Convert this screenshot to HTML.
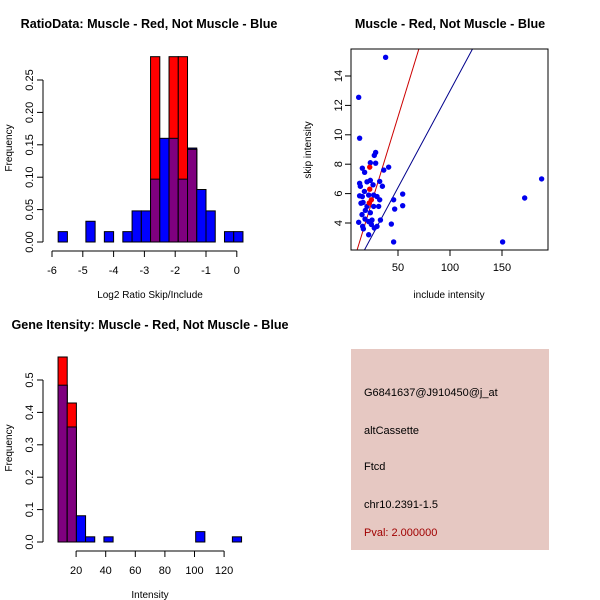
<!DOCTYPE html>
<html><head><meta charset="utf-8"><style>
body{margin:0;background:#fff}
svg{display:block;font-family:"Liberation Sans",sans-serif}
</style></head><body>
<svg id="s" width="600" height="600" viewBox="0 0 600 600">
<rect width="600" height="600" fill="#fff"/>
<g id="c1"></g>
<g id="c2"></g>
<g id="c3"></g>
<g>
<rect x="351" y="349" width="198" height="201" fill="#e6c8c2"/>
<text x="364" y="396" font-size="11">G6841637@J910450@j_at</text>
<text x="364" y="434" font-size="11">altCassette</text>
<text x="364" y="470" font-size="11">Ftcd</text>
<text x="364" y="508" font-size="11">chr10.2391-1.5</text>
<text x="364" y="536" font-size="11" fill="#a00000">Pval: 2.000000</text>
</g>
</svg>
<script>
// ---- Chart 1 data ----
const ratioBinStart = -5.8, ratioBinWidth = 0.3;
const ratioBlue = [0.016,0,0,0.032,0,0.016,0,0.016,0.048,0.048,0.097,0.16,0.16,0.097,0.145,0.081,0.048,0,0.016,0.016];
const ratioRed  = [0,0,0,0,0,0,0,0,0,0,0.286,0,0.286,0.286,0.143,0,0,0,0,0];
const ratioXTicks = [-6,-5,-4,-3,-2,-1,0];
const ratioYTicks = ["0.00","0.05","0.10","0.15","0.20","0.25"];
// ---- Chart 2 data ----
const scatBlueX = [12.2,13.1,38.1,12.2,13.1,13.8,15.7,13.1,14.4,16.4,17.7,15.7,17.9,15.4,16.0,16.7,18.3,18.6,20.2,20.2,21.8,21.8,21.8,23.4,23.4,23.4,24.4,25,26,26.6,26.6,27.2,28.5,28.5,27.2,29.8,29.8,31.4,32.4,32.4,33.1,35,36.3,41.0,43.6,45.8,45.8,46.8,54.5,54.5,150.6,171.8,188.1];
const scatBlueY = [12.55,9.77,15.27,4.05,6.7,6.5,5.8,5.85,5.35,5.4,6.15,7.73,7.45,4.57,3.77,3.6,4.27,4.86,5.13,6.8,5.9,4.1,3.2,6.9,8.1,4.7,3.9,4.2,6.6,5.9,5.13,8.6,8.8,8.07,3.66,3.77,5.8,5.13,5.58,6.83,4.2,6.5,7.6,7.8,3.93,2.71,5.58,4.95,5.97,5.18,2.71,5.7,7.0];
const scatRedX = [22.8,22.8,22.4,24.4];
const scatRedY = [7.8,6.3,5.36,5.58];
const fitSlopes = [0.2302,0.1316];
const fitIntercepts = [-0.29,-0.17];
const scatXTicks = [50,100,150];
const scatYTicks = [4,6,8,10,12,14];
// ---- Chart 3 data ----
const intBinStart = 7.8, intBinWidth = 6.2;
const intBlue = [0.484,0.355,0.081,0.016,0,0.016,0,0,0,0,0,0,0,0,0,0.032,0,0,0,0.016];
const intRed  = [0.571,0.429,0,0,0,0,0,0,0,0,0,0,0,0,0,0,0,0,0,0];
const intXTicks = [20,40,60,80,100,120];
const intYTicks = ["0.0","0.1","0.2","0.3","0.4","0.5"];

const NS="http://www.w3.org/2000/svg";
function mk(parent,tag,attrs,text){const e=document.createElementNS(NS,tag);for(const k in attrs)e.setAttribute(k,attrs[k]);if(text!==undefined)e.textContent=text;parent.appendChild(e);return e;}

function histogram(g,o){
  const X=v=>o.x0+(v-o.xv0)*o.xs, Y=v=>o.y0-v*o.ys;
  o.blue.forEach((b,i)=>{
    const l=X(o.start+i*o.w), r=X(o.start+(i+1)*o.w), red=o.red[i];
    if(b>0){const e=mk(g,'rect',{x:l,y:Y(b),width:r-l,height:Y(0)-Y(b),fill:'#0000ff',stroke:'#000','stroke-width':1});
      
      }
    if(red>0){const e=mk(g,'rect',{x:l,y:Y(red),width:r-l,height:Y(0)-Y(red),fill:'#ff0000',stroke:'#000','stroke-width':1});
      
      }
    const m=Math.min(b,red);
    if(m>0){const e=mk(g,'rect',{x:l,y:Y(m),width:r-l,height:Y(0)-Y(m),fill:'#7f007f',stroke:'#000','stroke-width':1});
      
      }
  });
  const xa=mk(g,'g',{});
  
  
  mk(xa,'line',{x1:X(o.xt[0]),x2:X(o.xt[o.xt.length-1]),y1:o.axY,y2:o.axY,stroke:'#000'});
  o.xt.forEach(t=>{mk(xa,'line',{x1:X(t),x2:X(t),y1:o.axY,y2:o.axY+6,stroke:'#000'});
    const e=mk(xa,'text',{x:X(t),y:o.axY+23,'font-size':11,'text-anchor':'middle'},String(t));
    
    });
  const ya=mk(g,'g',{});
  
  
  mk(ya,'line',{x1:o.axX,x2:o.axX,y1:Y(0),y2:Y(parseFloat(o.yt[o.yt.length-1])),stroke:'#000'});
  o.yt.forEach(t=>{const v=parseFloat(t);mk(ya,'line',{x1:o.axX,x2:o.axX-6,y1:Y(v),y2:Y(v),stroke:'#000'});
    const e=mk(ya,'text',{x:o.axX-10,y:Y(v),'font-size':11,'text-anchor':'middle',transform:`rotate(-90 ${o.axX-10} ${Y(v)})`},t);
    
    });
}

const g1=document.getElementById('c1');
histogram(g1,{x0:52,xv0:-6,xs:30.8,y0:242,ys:648,start:ratioBinStart,w:ratioBinWidth,blue:ratioBlue,red:ratioRed,xt:ratioXTicks,yt:ratioYTicks,axY:251,axX:43});
let t=mk(g1,'text',{x:149,y:28,'font-size':12.6,'font-weight':'bold','text-anchor':'middle'},'RatioData: Muscle - Red, Not Muscle - Blue');


t=mk(g1,'text',{x:150,y:298,'font-size':10,'text-anchor':'middle'},'Log2 Ratio Skip/Include');


t=mk(g1,'text',{x:12,y:148,'font-size':10,'text-anchor':'middle',transform:'rotate(-90 12 148)'},'Frequency');



const g3=document.getElementById('c3');
histogram(g3,{x0:46.5,xv0:0,xs:1.48,y0:542,ys:324,start:intBinStart,w:intBinWidth,blue:intBlue,red:intRed,xt:intXTicks,yt:intYTicks,axY:551,axX:43});
t=mk(g3,'text',{x:150,y:329,'font-size':12.6,'font-weight':'bold','text-anchor':'middle'},'Gene Itensity: Muscle - Red, Not Muscle - Blue');


t=mk(g3,'text',{x:150,y:598,'font-size':10,'text-anchor':'middle'},'Intensity');


t=mk(g3,'text',{x:12,y:448,'font-size':10,'text-anchor':'middle',transform:'rotate(-90 12 448)'},'Frequency');



const g2=document.getElementById('c2');
const L=351,R=548,T=49,B=250;
const SX=v=>346+(v-0)*1.04, SY=v=>223-(v-4)*14.7;
t=mk(g2,'text',{x:450,y:28,'font-size':12.6,'font-weight':'bold','text-anchor':'middle'},'Muscle - Red, Not Muscle - Blue');


mk(g2,'defs',{}).innerHTML='<clipPath id="clp"><rect x="351" y="49" width="197" height="201"/></clipPath>';
const lg=mk(g2,'g',{'clip-path':'url(#clp)'});
const xmin=-10,xmax=200;
['#cc0000','#00008b'].forEach((c,i)=>{
  const e=mk(lg,'line',{x1:SX(xmin),y1:SY(fitSlopes[i]*xmin+fitIntercepts[i]),x2:SX(xmax),y2:SY(fitSlopes[i]*xmax+fitIntercepts[i]),stroke:c,'stroke-width':1});
  
  
});
scatBlueX.forEach((x,i)=>{const e=mk(g2,'circle',{cx:SX(x),cy:SY(scatBlueY[i]),r:2.7,fill:'#0000ee'});
  
  });
scatRedX.forEach((x,i)=>{const e=mk(g2,'circle',{cx:SX(x),cy:SY(scatRedY[i]),r:2.7,fill:'#ee0000'});
  
  });
t=mk(g2,'rect',{x:L,y:T,width:R-L,height:B-T,fill:'none',stroke:'#000'});


scatXTicks.forEach(v=>{mk(g2,'line',{x1:SX(v),x2:SX(v),y1:B,y2:B+6,stroke:'#000'});
  const e=mk(g2,'text',{x:SX(v),y:B+21,'font-size':11,'text-anchor':'middle'},String(v));
  
  });
scatYTicks.forEach(v=>{mk(g2,'line',{x1:L,x2:L-6,y1:SY(v),y2:SY(v),stroke:'#000'});
  const e=mk(g2,'text',{x:L-9,y:SY(v),'font-size':11,'text-anchor':'middle',transform:`rotate(-90 ${L-9} ${SY(v)})`},String(v));
  
  });
t=mk(g2,'text',{x:449,y:298,'font-size':10,'text-anchor':'middle'},'include intensity');


t=mk(g2,'text',{x:311,y:150,'font-size':10,'text-anchor':'middle',transform:'rotate(-90 311 150)'},'skip intensity');


</script>
</body></html>
